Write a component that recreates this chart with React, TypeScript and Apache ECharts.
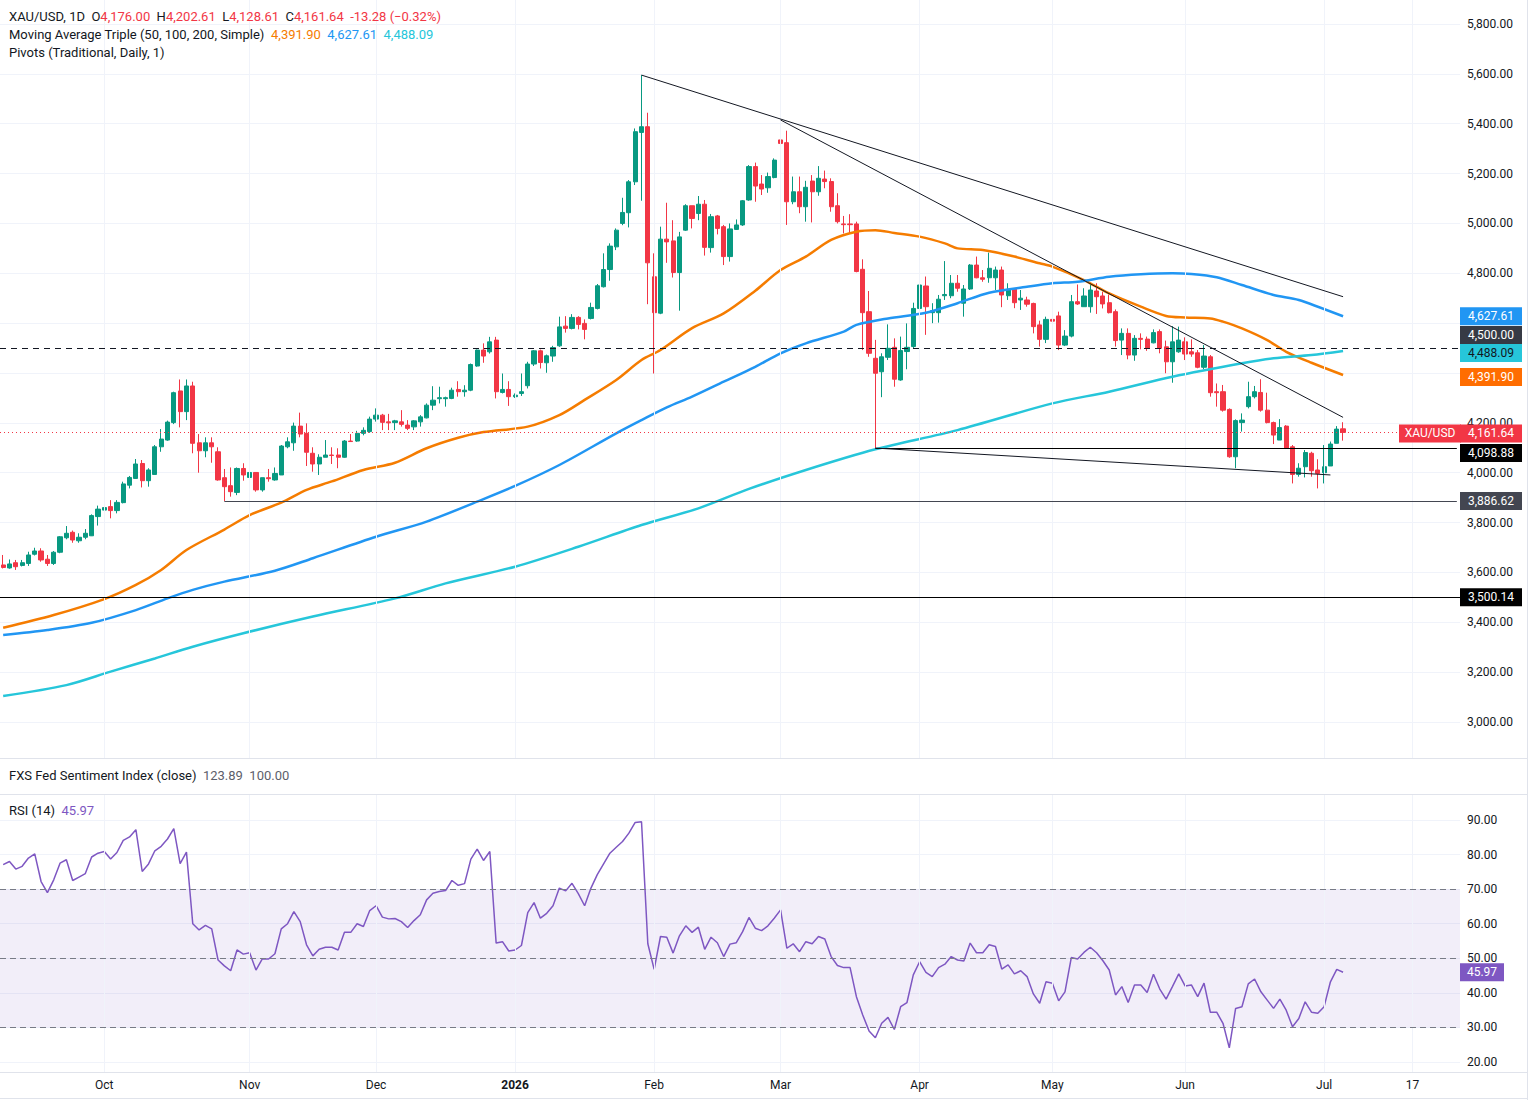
import React, { useEffect, useRef } from "react";
import * as echarts from "echarts";

// ---------- DATA ----------
const SLOT_COUNT = 231; // bar slots on the time axis (incl. empty future space)
const slots: string[] = Array.from({ length: SLOT_COUNT }, (_, i) => "bar" + i);

// daily candles: [open, high, low, close]
const candles: number[][] = [
  [3630,3670,3616,3620],[3618,3652,3615,3634],[3639,3650,3610,3623],[3628,3650,3624,3639],[3636,3683,3626,3670],
  [3673,3699,3668,3686],[3686,3697,3643,3650],[3653,3670,3626,3636],[3636,3686,3630,3681],[3681,3746,3677,3743],
  [3739,3786,3733,3757],[3761,3768,3719,3730],[3727,3757,3719,3741],[3741,3774,3733,3757],[3747,3833,3746,3828],
  [3824,3868,3788,3854],[3850,3888,3848,3860],[3864,3890,3817,3848],[3848,3890,3837,3881],[3880,3964,3877,3955],
  [3950,3987,3937,3981],[3977,4055,3975,4035],[4037,4051,3941,3968],[3968,4018,3944,4011],[3993,4111,3993,4104],
  [4104,4175,4084,4135],[4131,4209,4128,4203],[4201,4325,4195,4321],[4328,4374,4182,4245],[4245,4374,4211,4348],
  [4348,4365,4078,4118],[4120,4155,4000,4088],[4088,4142,4062,4120],[4120,4142,4040,4104],[4084,4102,3968,3971],
  [3980,4015,3886.62,3944],[3948,4021,3904,3924],[3921,4021,3910,4017],[4017,4038,3968,3991],[3981,4021,3968,4001],
  [4001,4001,3924,3931],[3931,3980,3924,3980],[3980,4015,3964,3976],[3971,4021,3968,3997],[3991,4111,3991,4107],
  [4104,4142,4098,4124],[4120,4201,4088,4187],[4187,4241,4142,4155],[4158,4198,4027,4082],[4078,4102,4004,4035],
  [4035,4074,3991,4062],[4062,4131,4062,4071],[4071,4102,4035,4069],[4071,4098,4018,4062],[4062,4131,4060,4127],
  [4127,4155,4124,4125],[4127,4168,4124,4158],[4158,4182,4150,4170],[4165,4225,4160,4215],[4215,4258,4205,4231],
  [4231,4236,4171,4202],[4204,4236,4171,4200],[4201,4212,4171,4208],[4204,4251,4185,4194],[4191,4211,4171,4178],
  [4184,4211,4171,4208],[4204,4231,4185,4224],[4220,4278,4218,4271],[4271,4347,4251,4291],[4297,4345,4278,4301],
  [4297,4305,4265,4301],[4298,4341,4295,4331],[4334,4367,4305,4325],[4325,4351,4305,4331],[4331,4438,4327,4434],
  [4428,4494,4425,4492],[4492,4519,4441,4468],[4485,4545,4478,4525],[4532,4545,4298,4325],[4322,4398,4318,4334],
  [4334,4367,4268,4305],[4305,4318,4300,4311],[4318,4398,4308,4325],[4349,4445,4338,4436],[4436,4492,4428,4489],
  [4489,4494,4418,4442],[4441,4474,4401,4469],[4468,4509,4445,4502],[4509,4626,4505,4585],[4588,4628,4562,4579],
  [4579,4636,4575,4623],[4623,4628,4575,4595],[4599,4615,4535,4575],[4619,4682,4615,4663],[4659,4757,4655,4750],
  [4746,4880,4743,4815],[4815,4920,4770,4909],[4906,4980,4893,4973],[5000,5103,4993,5044],[5043,5174,4984,5167],
  [5167,5381,5154,5368],[5365,5595,5091,5388],[5388,5444,4676,4842],[4786,4880,4398,4642],[4640,4987,4636,4937],
  [4937,5083,4842,4926],[4930,5013,4783,4803],[4803,4966,4650,4946],[4973,5077,4970,5071],[5071,5071,4980,5020],
  [5040,5110,5013,5077],[5077,5094,4871,4904],[4903,5038,4883,5027],[5030,5034,4956,4980],[4987,4994,4833,4867],
  [4867,5000,4847,4978],[4976,5016,4974,4994],[4994,5094,4990,5091],[5094,5234,5091,5228],[5228,5244,5087,5150],
  [5158,5194,5114,5138],[5143,5204,5123,5188],[5184,5261,5181,5254],[5335,5415,5255,5321],[5324,5372,4994,5087],
  [5087,5188,5077,5127],[5127,5188,5041,5067],[5067,5171,5007,5145],[5170,5194,5004,5127],[5127,5230,5111,5181],
  [5178,5212,5141,5168],[5168,5181,5047,5067],[5071,5121,5000,5007],[4998,5030,4960,4995],[4998,5037,4960,4995],
  [4998,5007,4804,4807],[4816,4856,4492,4642],[4646,4729,4465,4479],[4459,4533,4098.88,4399],[4405,4479,4303,4465],
  [4463,4595,4452,4499],[4503,4539,4345,4375],[4372,4546,4369,4490],[4486,4599,4415,4503],[4506,4682,4499,4659],
  [4659,4787,4646,4753],[4749,4787,4553,4666],[4642,4680,4600,4650],[4642,4713,4602,4696],[4710,4849,4693,4715],
  [4710,4793,4700,4760],[4760,4793,4726,4740],[4680,4753,4626,4737],[4737,4837,4733,4833],[4833,4867,4780,4782],
  [4782,4813,4766,4776],[4782,4883,4762,4820],[4782,4827,4733,4813],[4813,4827,4664,4713],[4710,4760,4693,4733],
  [4736,4740,4660,4682],[4693,4733,4653,4700],[4693,4706,4666,4676],[4679,4682,4559,4586],[4593,4610,4506,4535],
  [4535,4626,4520,4615],[4615,4653,4559,4608],[4629,4646,4492,4512],[4512,4572,4508,4548],[4548,4713,4543,4686],
  [4686,4755,4673,4677],[4666,4740,4666,4709],[4666,4760,4642,4733],[4729,4760,4637,4706],[4709,4726,4659,4677],
  [4682,4715,4639,4642],[4646,4655,4506,4530],[4532,4579,4472,4559],[4559,4579,4455,4472],[4472,4552,4449,4539],
  [4539,4559,4495,4535],[4536,4546,4489,4499],[4521,4575,4519,4562],[4566,4575,4479,4499],[4505,4530,4399,4445],
  [4445,4588,4361,4525],[4485,4586,4481,4532],[4525,4543,4452,4476],[4485,4535,4465,4476],[4481,4492,4419,4423],
  [4423,4512,4415,4468],[4465,4472,4305,4321],[4325,4358,4265,4321],[4325,4352,4245,4251],[4254,4258,4060,4064],
  [4064,4214,4018,4209],[4201,4238,4165,4211],[4265,4365,4258,4305],[4305,4348,4298,4325],[4322,4375,4245,4251],
  [4251,4321,4198,4201],[4201,4205,4115,4151],[4131,4215,4131,4181],[4187,4191,4095,4098],[4104,4111,3957,3993],
  [3993,4038,3984,4018],[4024,4091,3981,4081],[4078,4084,3984,4008],[4011,4054,3937,3997],[4000,4111,3957,4024],
  [4027,4125,4027,4115],[4118,4187,4118,4174.92],[4176,4202.61,4128.61,4161.64],
];

// RSI(14), one value per candle
const rsi14: number[] = [
  77.1,78.0,75.8,76.6,79.0,80.2,72.2,69.0,72.7,77.5,
  78.5,72.5,73.5,74.5,79.3,80.4,80.9,78.7,80.6,84.1,
  85.1,87.2,75.1,77.3,81.1,82.4,84.5,87.5,77.4,80.7,
  60.0,58.2,59.5,58.5,49.5,47.8,46.4,52.4,51.2,51.6,
  46.6,49.8,49.8,51.3,58.5,60.0,63.5,60.6,53.9,50.7,
  52.6,53.2,53.2,52.4,57.5,57.5,60.0,59.2,63.8,65.2,
  61.9,61.4,61.5,60.6,58.9,60.9,62.6,66.9,68.8,69.3,
  69.6,72.5,71.1,71.6,78.7,81.6,78.3,80.9,54.4,54.8,
  52.1,52.4,53.7,63.2,66.1,61.6,63.0,65.2,70.3,69.5,
  71.7,68.7,65.2,70.3,74.2,77.3,80.4,82.1,83.8,86.2,
  89.3,89.5,54.2,46.8,56.3,56.1,51.5,56.5,59.4,57.5,
  59.0,52.6,56.1,54.5,50.5,54.1,54.5,57.7,61.8,58.7,
  58.0,59.4,61.6,64.0,52.9,54.2,51.9,54.8,54.2,56.3,
  55.6,50.5,47.9,47.3,47.3,38.9,33.6,29.0,27.0,31.2,
  32.9,29.4,36.0,37.2,45.2,49.0,45.9,44.7,47.3,48.3,
  50.5,49.5,49.2,54.4,51.6,51.6,53.9,53.4,46.9,48.1,
  45.5,46.4,44.7,39.7,37.0,43.2,42.8,37.7,40.3,50.2,
  49.8,51.7,53.2,51.6,49.3,46.6,39.4,41.8,37.2,42.3,
  42.3,40.1,45.4,41.1,38.2,41.8,45.5,42.0,42.3,38.9,
  42.8,34.4,34.4,31.2,24.1,35.5,36.0,42.6,44.0,40.3,
  37.9,35.5,38.2,35.0,30.2,32.6,37.4,34.4,34.1,36.0,
  43.2,46.8,45.97,
];

// moving averages: [bar index, value]
const ma50Pts: number[][] = [
  [0,3378],[8,3429],[16,3493],[21,3550],[25,3610],[29,3690],[35,3772],[39,3830],[44,3880],[48,3931],
  [52,3965],[57,4011],[62,4040],[67,4098],[72,4140],[76,4163],[83,4185],[88,4231],[92,4292],[97,4372],
  [101,4452],[104,4492],[109,4580],[114,4639],[119,4730],[123,4813],[127,4867],[131,4934],[135,4967],[138,4973],
  [141,4962],[145,4947],[149,4920],[151,4900],[155,4893],[160,4867],[164,4840],[166,4827],[171,4773],[175,4719],
  [180,4666],[184,4629],[187,4623],[191,4619],[193,4606],[196,4579],[200,4532],[203,4485],[207,4441],[212,4391.9],
];
const ma100Pts: number[][] = [
  [0,3349],[7,3369],[14,3398],[21,3449],[26,3496],[30,3530],[35,3563],[43,3607],[49,3657],[59,3743],
  [67,3804],[75,3884],[81,3947],[88,4031],[97,4158],[101,4211],[105,4262],[109,4305],[114,4365],[119,4425],
  [123,4479],[127,4519],[133,4566],[135,4593],[140,4619],[146,4642],[151,4680],[156,4722],[162,4746],[166,4760],
  [170,4766],[175,4786],[180,4796],[185,4800],[188,4797],[192,4784],[196,4753],[201,4713],[205,4693],[212,4627.61],
];
const ma200Pts: number[][] = [
  [0,3104],[10,3148],[17,3202],[24,3255],[30,3302],[38,3356],[49,3423],[62,3496],[70,3556],[81,3623],
  [91,3703],[101,3790],[110,3857],[118,3935],[127,4011],[138,4094],[151,4171],[166,4278],[175,4325],[185,4385],
  [196,4439],[201,4459],[207,4472],[212,4488.09],
];

// time-axis tick labels: [bar index, label]
const monthTicks: [number, string][] = [
  [16,"Oct"],[39,"Nov"],[59,"Dec"],[81,"2026"],[103,"Feb"],[123,"Mar"],[145,"Apr"],[166,"May"],[187,"Jun"],[209,"Jul"],[223,"17"],
];

// price-axis and RSI tick values
const priceTickMin = 2800, priceTickMax = 6000, priceTickStep = 200;
const rsiTickMin = 10, rsiTickMax = 100, rsiTickStep = 10;

// drawn levels
const lastPrice = 4161.64;
const resistance = 4500.0;
const pivotA = 4098.88;
const pivotB = 3886.62;
const support = 3500.14;
const ma50Last = 4391.9, ma100Last = 4627.61, ma200Last = 4488.09;
const rsiLast = 45.97;
// trend lines: [[bar, price], [bar, price]]
const trendLines: number[][][] = [
  [[101,5595],[212,4706]],
  [[123,5415],[212,4222]],
  [[138,4098.88],[210,3991]],
];
const pivotAStart = 138, pivotBStart = 35;

// ---------- STYLE / LAYOUT ----------
const UP = "#089981", DOWN = "#F23645";
const C_MA50 = "#F57C00", C_MA100 = "#2196F3", C_MA200 = "#26C6DA";
const RSI_C = "#7E57C2";
const TXT = "#131722";
const GRIDC = "#F0F3FA";
const SEP = "#E0E3EB";
const FONT = "Roboto, 'Noto Sans', sans-serif";
const PLOT_W = 1460;
// price pane: 3000 at y=722, 5800 at y=24
const PX = (722 - 24) / 2800;
const priceTop = 24 - (priceTickMax - 5800) * PX;
const priceH = (priceTickMax - priceTickMin) * PX;
// rsi pane: 90 at 820, 20 at 1062
const RPX = (1062 - 820) / 70;
const rsiTop = 820 - (rsiTickMax - 90) * RPX;
const rsiH = (rsiTickMax - rsiTickMin) * RPX;

const fmt = (v: number) =>
  v.toLocaleString("en-US", { minimumFractionDigits: 2, maximumFractionDigits: 2 });

const slotW = PLOT_W / SLOT_COUNT;
const lastSlot = SLOT_COUNT - 1;
const lastSlotCenter = (lastSlot + 0.5) * slotW;
const edge = lastSlot + 0.49;

function box(value: number, text: string, bg: string, fg: string, w: number, centerX: number, dy = 0) {
  return {
    coord: [lastSlot, value],
    symbol: "rect",
    symbolSize: [w, 18],
    symbolOffset: [centerX - lastSlotCenter, dy],
    itemStyle: { color: bg },
    label: {
      show: true,
      position: "inside",
      formatter: text,
      color: fg,
      fontSize: 12,
      fontFamily: FONT,
    },
  };
}

export default function App() {
  const ref = useRef<HTMLDivElement>(null);

  useEffect(() => {
    document.body.style.margin = "0";
    if (!ref.current) return;
    const chart = echarts.init(ref.current, null, { renderer: "svg" });

    const closes = candles.map((c) => c[3]);
    const labelAt = new Map<number, string>(monthTicks);
    const vLines = monthTicks.map(([i]) => ({ xAxis: i }));

    const hLine = (y: number, color: string, type: any) => ({
      yAxis: y,
      lineStyle: { color, width: 1, type },
    });
    const segLine = (x0: number, y0: number, x1: number, y1: number, color: string) => [
      { coord: [x0, y0], lineStyle: { color, width: 1, type: "solid" } },
      { coord: [x1, y1] },
    ];

    const priceLabel = (v: number) => {
      if (v < 2900 || v > 5850) return "";
      if (v === 4400 || v === 4600) return "";
      return fmt(v);
    };
    const rsiLabel = (v: number) => (v < 15 || v > 95 ? "" : fmt(v));

    const option: any = {
      animation: false,
      backgroundColor: "#ffffff",
      textStyle: { fontFamily: FONT },
      grid: [
        { left: 0, top: priceTop, width: PLOT_W, height: priceH, outerBoundsMode: "none", containLabel: false },
        { left: 0, top: rsiTop, width: PLOT_W, height: rsiH, outerBoundsMode: "none", containLabel: false },
        { left: 0, top: 1072, width: PLOT_W, height: 1, outerBoundsMode: "none", containLabel: false },
      ],
      xAxis: [
        { type: "category", gridIndex: 0, data: slots, show: false, boundaryGap: true },
        { type: "category", gridIndex: 1, data: slots, show: false, boundaryGap: true },
        {
          type: "category",
          gridIndex: 2,
          data: slots,
          boundaryGap: true,
          z: 100,
          axisLine: { show: false },
          axisTick: { show: false },
          splitLine: { show: false },
          axisLabel: {
            interval: (i: number) => labelAt.has(i),
            formatter: (_v: string, i: number) => {
              const t = labelAt.get(i) || "";
              return t === "2026" ? "{y|" + t + "}" : t;
            },
            margin: 6,
            color: TXT,
            fontSize: 12,
            fontFamily: FONT,
            rich: { y: { fontWeight: "bold", fontSize: 12, color: TXT, fontFamily: FONT } },
          },
        },
      ],
      yAxis: [
        {
          type: "value",
          gridIndex: 0,
          position: "right",
          min: priceTickMin,
          max: priceTickMax,
          interval: priceTickStep,
          axisLine: { show: false },
          axisTick: { show: false },
          splitLine: { show: true, lineStyle: { color: GRIDC, width: 1 } },
          axisLabel: { margin: 7, color: TXT, fontSize: 12, fontFamily: FONT, formatter: priceLabel, showMinLabel: true, showMaxLabel: true },
        },
        {
          type: "value",
          gridIndex: 1,
          position: "right",
          min: rsiTickMin,
          max: rsiTickMax,
          interval: rsiTickStep,
          axisLine: { show: false },
          axisTick: { show: false },
          splitLine: { show: true, lineStyle: { color: GRIDC, width: 1 } },
          axisLabel: { margin: 7, color: TXT, fontSize: 12, fontFamily: FONT, formatter: rsiLabel },
        },
        { type: "value", gridIndex: 2, show: false },
      ],
      series: [
        {
          // vertical time grid (price pane)
          type: "line",
          xAxisIndex: 0,
          yAxisIndex: 0,
          data: closes,
          symbol: "none",
          silent: true,
          z: 1,
          lineStyle: { opacity: 0 },
          markLine: {
            silent: true,
            symbol: ["none", "none"],
            label: { show: false },
            emphasis: { disabled: true },
            lineStyle: { color: GRIDC, width: 1, type: "solid" },
            data: vLines,
          },
        },
        {
          // vertical time grid (rsi pane)
          type: "line",
          xAxisIndex: 1,
          yAxisIndex: 1,
          data: rsi14,
          symbol: "none",
          silent: true,
          z: 1,
          lineStyle: { opacity: 0 },
          markLine: {
            silent: true,
            symbol: ["none", "none"],
            label: { show: false },
            emphasis: { disabled: true },
            lineStyle: { color: GRIDC, width: 1, type: "solid" },
            data: vLines,
          },
        },
        {
          type: "candlestick",
          name: "XAU/USD",
          xAxisIndex: 0,
          yAxisIndex: 0,
          z: 2,
          barWidth: "74%",
          data: candles.map(([o, h, l, c]) => [o, c, l, h]),
          itemStyle: { color: UP, color0: DOWN, borderColor: UP, borderColor0: DOWN, borderWidth: 1 },
          markLine: {
            silent: true,
            symbol: ["none", "none"],
            label: { show: false },
            emphasis: { disabled: true },
            data: [
              hLine(resistance, TXT, [6, 5]),
              hLine(support, "#000000", "solid"),
              hLine(lastPrice, DOWN, [1, 3]),
              segLine(pivotAStart, pivotA, edge, pivotA, "#000000"),
              segLine(pivotBStart, pivotB, edge, pivotB, "#434651"),
              ...trendLines.map(([[x0, y0], [x1, y1]]) => segLine(x0, y0, x1, y1, TXT)),
            ],
          },
          markPoint: {
            silent: true,
            emphasis: { disabled: true },
            data: [
              box(ma100Last, fmt(ma100Last), "#2196F3", "#ffffff", 62, 1491, 0),
              box(resistance, fmt(resistance), "#363A45", "#ffffff", 62, 1491, -13),
              box(ma200Last, fmt(ma200Last), "#26C6DA", TXT, 62, 1491, 2),
              box(ma50Last, fmt(ma50Last), "#FF6D00", "#ffffff", 62, 1491, 2),
              box(lastPrice, "XAU/USD", DOWN, "#ffffff", 62, 1430, 1),
              box(lastPrice, fmt(lastPrice), DOWN, "#ffffff", 62, 1491, 1),
              box(pivotA, fmt(pivotA), "#000000", "#ffffff", 62, 1491, 5),
              box(pivotB, fmt(pivotB), "#434651", "#ffffff", 62, 1491, 0),
              box(support, fmt(support), "#000000", "#ffffff", 62, 1491, 0),
            ],
          },
        },
        {
          type: "line",
          name: "MA50",
          xAxisIndex: 0,
          yAxisIndex: 0,
          z: 3,
          data: ma50Pts,
          smooth: 0.3,
          symbol: "none",
          silent: true,
          lineStyle: { color: C_MA50, width: 2.5 },
        },
        {
          type: "line",
          name: "MA100",
          xAxisIndex: 0,
          yAxisIndex: 0,
          z: 3,
          data: ma100Pts,
          smooth: 0.3,
          symbol: "none",
          silent: true,
          lineStyle: { color: C_MA100, width: 2.5 },
        },
        {
          type: "line",
          name: "MA200",
          xAxisIndex: 0,
          yAxisIndex: 0,
          z: 3,
          data: ma200Pts,
          smooth: 0.3,
          symbol: "none",
          silent: true,
          lineStyle: { color: C_MA200, width: 2.5 },
        },
        {
          type: "line",
          name: "RSI",
          xAxisIndex: 1,
          yAxisIndex: 1,
          z: 3,
          data: rsi14,
          symbol: "none",
          silent: true,
          lineStyle: { color: RSI_C, width: 1.5 },
          markArea: {
            silent: true,
            itemStyle: { color: "rgba(126,87,194,0.1)" },
            data: [[{ yAxis: 30 }, { yAxis: 70 }]],
          },
          markLine: {
            silent: true,
            symbol: ["none", "none"],
            label: { show: false },
            emphasis: { disabled: true },
            lineStyle: { color: "#787B86", width: 1, type: [6, 4] },
            data: [{ yAxis: 70 }, { yAxis: 50 }, { yAxis: 30 }],
          },
          markPoint: {
            silent: true,
            emphasis: { disabled: true },
            data: [
              {
                coord: [lastSlot, rsiLast],
                symbol: "rect",
                symbolSize: [44, 18],
                symbolOffset: [1482 - lastSlotCenter, 0],
                itemStyle: { color: RSI_C },
                label: { show: true, position: "inside", formatter: fmt(rsiLast), color: "#fff", fontSize: 12, fontFamily: FONT },
              },
            ],
          },
        },
      ],
      graphic: [
        { type: "rect", z: 50, silent: true, shape: { x: 0, y: 758, width: 1528, height: 36 }, style: { fill: "#ffffff" } },
        { type: "rect", z: 50, silent: true, shape: { x: 0, y: 1072.5, width: 1528, height: 28 }, style: { fill: "#ffffff" } },
        { type: "line", z: 51, silent: true, shape: { x1: 0, y1: 758.5, x2: 1528, y2: 758.5 }, style: { stroke: SEP, lineWidth: 1 } },
        { type: "line", z: 51, silent: true, shape: { x1: 0, y1: 794.5, x2: 1528, y2: 794.5 }, style: { stroke: SEP, lineWidth: 1 } },
        { type: "line", z: 51, silent: true, shape: { x1: 0, y1: 1072.5, x2: 1528, y2: 1072.5 }, style: { stroke: SEP, lineWidth: 1 } },
        { type: "line", z: 51, silent: true, shape: { x1: 0, y1: 1098.5, x2: 1528, y2: 1098.5 }, style: { stroke: SEP, lineWidth: 1 } },
        { type: "line", z: 51, silent: true, shape: { x1: 1527.5, y1: 0, x2: 1527.5, y2: 1100 }, style: { stroke: SEP, lineWidth: 1 } },
        {
          type: "text", z: 60, silent: true, x: 9, y: 16,
          style: {
            text:
              "{d|XAU/USD, 1D  O}{r|" + fmt(candles[candles.length - 1][0]) + "}{d|  H}{r|" +
              fmt(candles[candles.length - 1][1]) + "}{d|  L}{r|" + fmt(candles[candles.length - 1][2]) +
              "}{d|  C}{r|" + fmt(candles[candles.length - 1][3]) + "}{r|  -13.28 (\u22120.32%)}",
            textVerticalAlign: "middle",
            font: "13px " + FONT,
            rich: {
              d: { fill: TXT, fontSize: 13, fontFamily: FONT },
              r: { fill: DOWN, fontSize: 13, fontFamily: FONT },
            },
          },
        },
        {
          type: "text", z: 60, silent: true, x: 9, y: 34,
          style: {
            text:
              "{d|Moving Average Triple (50, 100, 200, Simple)  }{o|" + fmt(ma50Last) + "}{d|  }{b|" +
              fmt(ma100Last) + "}{d|  }{c|" + fmt(ma200Last) + "}",
            textVerticalAlign: "middle",
            font: "13px " + FONT,
            rich: {
              d: { fill: TXT, fontSize: 13, fontFamily: FONT },
              o: { fill: C_MA50, fontSize: 13, fontFamily: FONT },
              b: { fill: C_MA100, fontSize: 13, fontFamily: FONT },
              c: { fill: C_MA200, fontSize: 13, fontFamily: FONT },
            },
          },
        },
        {
          type: "text", z: 60, silent: true, x: 9, y: 52,
          style: { text: "Pivots (Traditional, Daily, 1)", fill: TXT, font: "13px " + FONT, textVerticalAlign: "middle" },
        },
        {
          type: "text", z: 60, silent: true, x: 9, y: 775,
          style: {
            text: "{d|FXS Fed Sentiment Index (close)  }{v|123.89}{d|  }{v|100.00}",
            textVerticalAlign: "middle",
            font: "13px " + FONT,
            rich: {
              d: { fill: TXT, fontSize: 13, fontFamily: FONT },
              v: { fill: "#5D606B", fontSize: 13, fontFamily: FONT },
            },
          },
        },
        {
          type: "text", z: 60, silent: true, x: 9, y: 810,
          style: {
            text: "{d|RSI (14)  }{p|" + fmt(rsiLast) + "}",
            textVerticalAlign: "middle",
            font: "13px " + FONT,
            rich: {
              d: { fill: TXT, fontSize: 13, fontFamily: FONT },
              p: { fill: RSI_C, fontSize: 13, fontFamily: FONT },
            },
          },
        },
      ],
    };

    chart.setOption(option);
    return () => chart.dispose();
  }, []);

  return <div ref={ref} style={{ width: 1528, height: 1100 }} />;
}
